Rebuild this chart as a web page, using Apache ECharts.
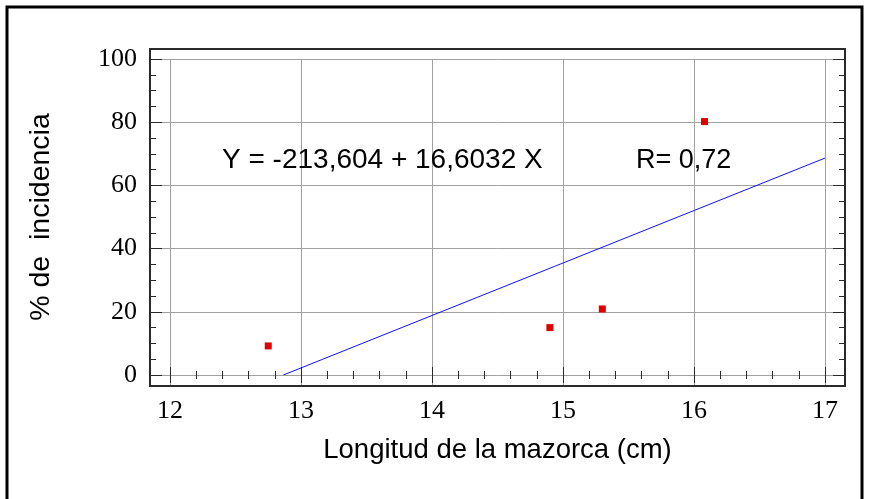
<!DOCTYPE html>
<html>
<head>
<meta charset="utf-8">
<script src="https://cdn.jsdelivr.net/npm/echarts@6/dist/echarts.min.js"></script>
<style>
  html, body { margin: 0; padding: 0; background: #fff; }
  #chart { width: 869px; height: 499px; }
</style>
</head>
<body>
<div id="chart"></div>
<script>
// Observed ear length (cm) against disease incidence (%)
const longitud = [12.75, 14.9, 15.3, 16.08];
const incidencia = [9.2, 15.0, 20.9, 80.2];

// Fitted regression Y = a + b X and its correlation
const intercepto = -213.604;
const pendiente = 16.6032;
const coefR = 0.72;

// Axis ranges and tick labels
const xTicks = [12, 13, 14, 15, 16, 17];
const yTicks = [0, 20, 40, 60, 80, 100];

const fmt = (v, d) => v.toFixed(d).replace('.', ',');
const ecuacion = 'Y = ' + fmt(intercepto, 3) + ' + ' + fmt(pendiente, 4) + ' X';
const textoR = 'R= ' + fmt(coefR, 2);

// Fitted line from where it crosses 0 % to the right end of the axis
const xMin = xTicks[0], xMax = xTicks[xTicks.length - 1];
const yMin = yTicks[0], yMax = yTicks[yTicks.length - 1];
const xStart = Math.max(xMin, (yMin - intercepto) / pendiente);
const recta = [[xStart, intercepto + pendiente * xStart], [xMax, intercepto + pendiente * xMax]];

const puntos = longitud.map((x, i) => [x, incidencia[i]]);

const DARK = '#2a2a2a';
const GRID = '#a0a0a0';
const SERIF = '"Liberation Serif", "Times New Roman", serif';
const SANS = '"Liberation Sans", Arial, sans-serif';

function xAxisCfg(pos, offset, dark, withLabels) {
  return {
    type: 'value', position: pos, offset: offset,
    min: xMin, max: xMax, interval: 1,
    z: dark ? 2 : 1,
    axisLine: { show: false },
    axisTick: { show: true, inside: true, length: dark ? 8 : offset,
      lineStyle: { color: dark ? DARK : GRID, width: 1 } },
    minorTick: { show: dark, splitNumber: 5, length: 4, lineStyle: { color: DARK, width: 1 } },
    axisLabel: { show: withLabels, fontFamily: SERIF, fontSize: 26, color: '#000', margin: 12 },
    splitLine: { show: withLabels, lineStyle: { color: GRID, width: 1 } },
    name: withLabels ? 'Longitud de la mazorca (cm)' : '',
    nameLocation: 'middle', nameGap: 50,
    nameTextStyle: { fontFamily: SANS, fontSize: 27.5, color: '#000' }
  };
}

function yAxisCfg(pos, offset, dark, withLabels) {
  return {
    type: 'value', position: pos, offset: offset,
    min: yMin, max: yMax, interval: 20,
    z: dark ? 2 : 1,
    axisLine: { show: false },
    axisTick: { show: true, inside: true, length: dark ? 12 : offset,
      lineStyle: { color: dark ? DARK : GRID, width: 1 } },
    minorTick: { show: dark, splitNumber: 4, length: 6, lineStyle: { color: DARK, width: 1 } },
    axisLabel: { show: withLabels, fontFamily: SERIF, fontSize: 26, color: '#000', margin: 13 },
    splitLine: { show: withLabels, lineStyle: { color: GRID, width: 1 } },
    name: withLabels ? '% de  incidencia' : '',
    nameLocation: 'middle', nameGap: 94, nameRotate: 90,
    nameTextStyle: { fontFamily: SANS, fontSize: 28.5, color: '#000' }
  };
}

const chart = echarts.init(document.getElementById('chart'), null, { renderer: 'canvas' });

chart.setOption({
  animation: false,
  backgroundColor: '#fff',
  grid: { left: 170, top: 59, width: 655, height: 316, containLabel: false },
  xAxis: [
    xAxisCfg('bottom', 11, true, true),
    xAxisCfg('bottom', 11, false, false),
    xAxisCfg('top', 10, false, false),
    xAxisCfg('top', 10, true, false)
  ],
  yAxis: [
    yAxisCfg('left', 20, true, true),
    yAxisCfg('left', 20, false, false),
    yAxisCfg('right', 20, false, false),
    yAxisCfg('right', 20, true, false)
  ],
  series: [
    {
      type: 'line', data: recta, xAxisIndex: 0, yAxisIndex: 0,
      showSymbol: false, lineStyle: { color: '#1010ff', width: 1 }, z: 3
    },
    {
      type: 'scatter', data: puntos, xAxisIndex: 0, yAxisIndex: 0,
      symbol: 'rect', symbolSize: 7, itemStyle: { color: '#e00000', opacity: 1 }, z: 4
    }
  ],
  graphic: [
    { type: 'rect', z: 10, silent: true,
      shape: { x: 150, y: 49, width: 695, height: 337 },
      style: { fill: 'none', stroke: DARK, lineWidth: 2 } },
    { type: 'polyline', z: 10, silent: true,
      shape: { points: [[7, 499], [7, 7], [862, 7], [862, 499]] },
      style: { fill: 'none', stroke: '#000', lineWidth: 3 } },
    { type: 'text', z: 10, left: 222, top: 146,
      style: { text: ecuacion, font: '28px ' + SANS, fill: '#000' } },
    { type: 'text', z: 10, left: 636, top: 147,
      style: { text: textoR, font: '27px ' + SANS, fill: '#000' } }
  ]
});
</script>
</body>
</html>
